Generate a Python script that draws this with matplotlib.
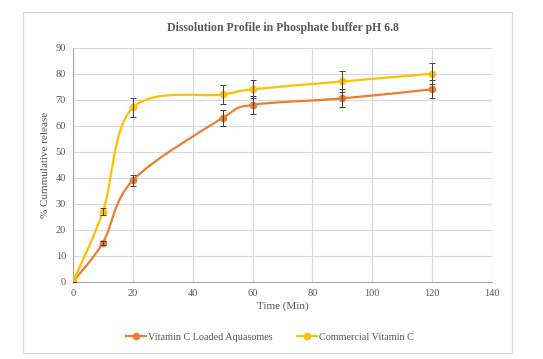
import numpy as np
import matplotlib.pyplot as plt
from matplotlib.path import Path
from matplotlib.patches import PathPatch, Rectangle
from matplotlib.lines import Line2D

time = [0, 10, 20, 50, 60, 90, 120]
aquasomes = [0, 15, 39, 63, 68, 70.5, 74]
aquasomes_err = [0, 0.8, 2, 3, 3.5, 3.5, 3.5]
commercial = [0, 27, 67, 72, 74, 77, 80]
commercial_err = [0, 1.2, 3.5, 3.5, 3.5, 4, 4]

plt.rcParams['font.family'] = ['Liberation Serif', 'DejaVu Serif']
grey = '#595959'


def smooth_path(x, y):
    # excel style smoothed line, catmull-rom control points
    p = np.column_stack([x, y]).astype(float)
    n = len(p)
    verts = [p[0]]
    codes = [Path.MOVETO]
    for i in range(n - 1):
        p0 = p[i - 1] if i > 0 else p[i]
        p3 = p[i + 2] if i + 2 < n else p[i + 1]
        c1 = p[i] + (p[i + 1] - p0) / 6
        c2 = p[i + 1] - (p3 - p[i]) / 6
        verts += [c1, c2, p[i + 1]]
        codes += [Path.CURVE4] * 3
    return Path(verts, codes)


fig = plt.figure(figsize=(5.43, 3.59), dpi=100)
fig.patches.append(Rectangle((23 / 543, 1 - 353 / 359), 489 / 543, 341 / 359,
                             transform=fig.transFigure, fill=False,
                             edgecolor='#d9d9d9', lw=0.8))
ax = fig.add_axes([73 / 543, 1 - 281.7 / 359, 419 / 543, 234 / 359])

series = [(aquasomes, aquasomes_err, '#ED7D31', 'Vitamin C Loaded Aquasomes'),
          (commercial, commercial_err, '#FFC000', 'Commercial Vitamin C')]
for vals, err, col, lab in series:
    ax.add_patch(PathPatch(smooth_path(time, vals), fill=False,
                           edgecolor=col, lw=1.6, zorder=3))
    ax.plot(time, vals, 'o', color=col, ms=4.5, zorder=4)
    ax.errorbar(time, vals, yerr=err, fmt='none', ecolor='#404040',
                elinewidth=0.7, capsize=2, capthick=0.7, zorder=5)

ax.set_xlim(0, 140)
ax.set_ylim(0, 90)
ax.set_xticks(range(0, 141, 20))
ax.set_yticks(range(0, 91, 10))
ax.grid(True, color='#d9d9d9', lw=0.8)
ax.set_axisbelow(True)
for s in ['top', 'right']:
    ax.spines[s].set_visible(False)
for s in ['left', 'bottom']:
    ax.spines[s].set_color('#a6a6a6')
ax.tick_params(length=0, labelsize=7.5, colors=grey, pad=5)
ax.set_xlabel('Time (Min)', fontsize=8, color=grey, labelpad=3)
ax.set_ylabel('% Cummulative release', fontsize=8, color=grey, labelpad=4)
ax.set_title('Dissolution Profile in Phosphate buffer pH 6.8', fontsize=8.5,
             fontweight='bold', color=grey, pad=12)

handles = [Line2D([], [], color=c, marker='o', ms=4.5, lw=1.6) for _, _, c, _ in series]
fig.legend(handles, [s[3] for s in series], loc='center', ncol=2,
           bbox_to_anchor=(270 / 543, 1 - 337 / 359), frameon=False,
           fontsize=7.3, labelcolor=grey, handlelength=2.0, columnspacing=2.4,
           handletextpad=0.2)

fig.savefig('out.png', dpi=100)
